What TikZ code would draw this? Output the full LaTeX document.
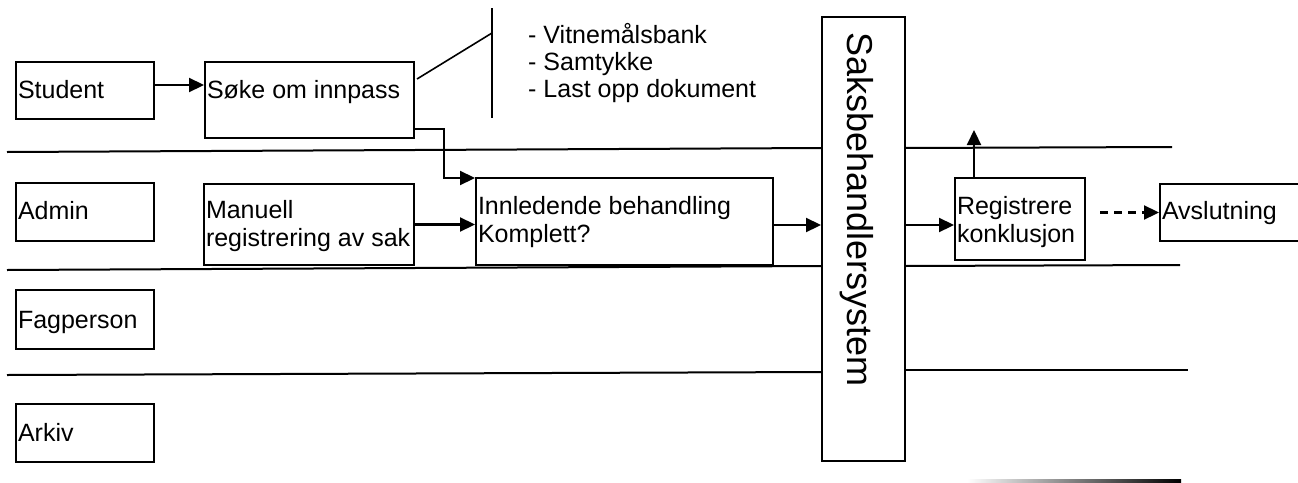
\documentclass[tikz,border=0pt]{standalone}
\usepackage{fontspec}
\setmainfont{Liberation Sans}
\usetikzlibrary{arrows.meta}
\begin{document}
\begin{tikzpicture}[x=1pt,y=-1pt,
  bx/.style={draw, line width=2pt, rectangle, inner xsep=2pt, inner ysep=0pt, anchor=north west, font=\fontsize{25}{28}\selectfont},
  arr/.style={line width=2.2pt, -{Triangle[length=15pt,width=14pt]}},
  lane/.style={line width=2pt},
  note/.style={font=\fontsize{25}{27}\selectfont, inner sep=0pt, anchor=base west}]
\useasboundingbox (0,0) rectangle (1298,482);
\clip (0,0) rectangle (1298,482);
% lane separators
\draw[lane] (7,152) -- (822,148);
\draw[lane] (905,148) -- (1172,147);
\draw[lane] (7,270) -- (822,266);
\draw[lane] (905,266) -- (1180,265);
\draw[lane] (7,375) -- (822,372);
\draw[lane] (905,370) -- (1188,370);
\shade[left color=white, right color=black] (967,479.5) rectangle (1181,482);
% boxes
\node[bx, minimum width=138, minimum height=57, text height=18, text depth=3] (student) at (15,61) {\makebox[134pt][l]{Student}};
\node[bx, minimum width=209, minimum height=76, text height=18, text depth=22] (soke) at (204,61) {\makebox[205pt][l]{Søke om innpass}};
\node[bx, minimum width=138, minimum height=58, text height=17, text depth=3] (admin) at (15,182) {\makebox[134pt][l]{Admin}};
\node[bx, minimum width=210, minimum height=81, text height=18, text depth=31] (manuell) at (203,183) {\parbox[t]{206pt}{Manuell\\registrering av sak}};
\node[bx, minimum width=297, minimum height=87, text height=18, text depth=33] (innl) at (475,177) {\parbox[t]{293pt}{Innledende behandling\\Komplett?}};
\node[bx, minimum width=138, minimum height=59, text height=20, text depth=3] (fag) at (15,289) {\makebox[134pt][l]{Fagperson}};
\node[bx, minimum width=138, minimum height=58, text height=19, text depth=3] (arkiv) at (15,403) {\makebox[134pt][l]{Arkiv}};
\node[bx, anchor=center, rotate=-90, minimum width=444, minimum height=83, text height=36, text depth=3, font=\fontsize{36}{40}\selectfont] (saks) at (863.5,239) {\makebox[440pt][l]{\hspace{13pt}Saksbehandlersystem}};
\node[bx, minimum width=130, minimum height=82, text height=18, text depth=28] (reg) at (954,177) {\parbox[t]{126pt}{Registrere\\konklusjon}};
\node[bx, minimum width=151, minimum height=57, text height=16, text depth=3] (avsl) at (1159,183) {\makebox[147pt][l]{Avslutning}};
% note
\coordinate (c1) at (417,79);
\coordinate (c2) at (492,33);
\coordinate (c3) at (492,8);
\coordinate (c4) at (492,118);
\draw[line width=1.6pt] (c1) -- (c2);
\draw[line width=1.6pt] (c3) -- (c4);
\node[note] (list) at (528,43) {\parbox[t]{260pt}{- Vitnemålsbank\\- Samtykke\\- Last opp dokument}};
% connectors
\draw[arr] ([yshift=5.5pt]student.east) -- ([yshift=5.5pt]student.east -| soke.west);
\draw[arr] ([yshift=-29pt]soke.east) -| ([xshift=-31pt,yshift=-1pt]innl.north west) -- ([yshift=-1pt]innl.north west);
\draw[arr] (manuell.east) -- (manuell.east -| innl.west);
\draw[arr] ([yshift=-3.5pt]innl.east) -- ([yshift=-3.5pt]innl.east -| saks.south);
\draw[arr] ([yshift=-3.5pt]innl.east -| saks.north) -- ([yshift=-3.5pt]innl.east -| reg.west);
\coordinate (upend) at (974,130);
\draw[arr] (reg.north -| upend) -- (upend);
\draw[arr, dash pattern=on 8pt off 6pt] ([xshift=14pt]reg.east |- avsl.west) -- (avsl.west);
\end{tikzpicture}
\end{document}
